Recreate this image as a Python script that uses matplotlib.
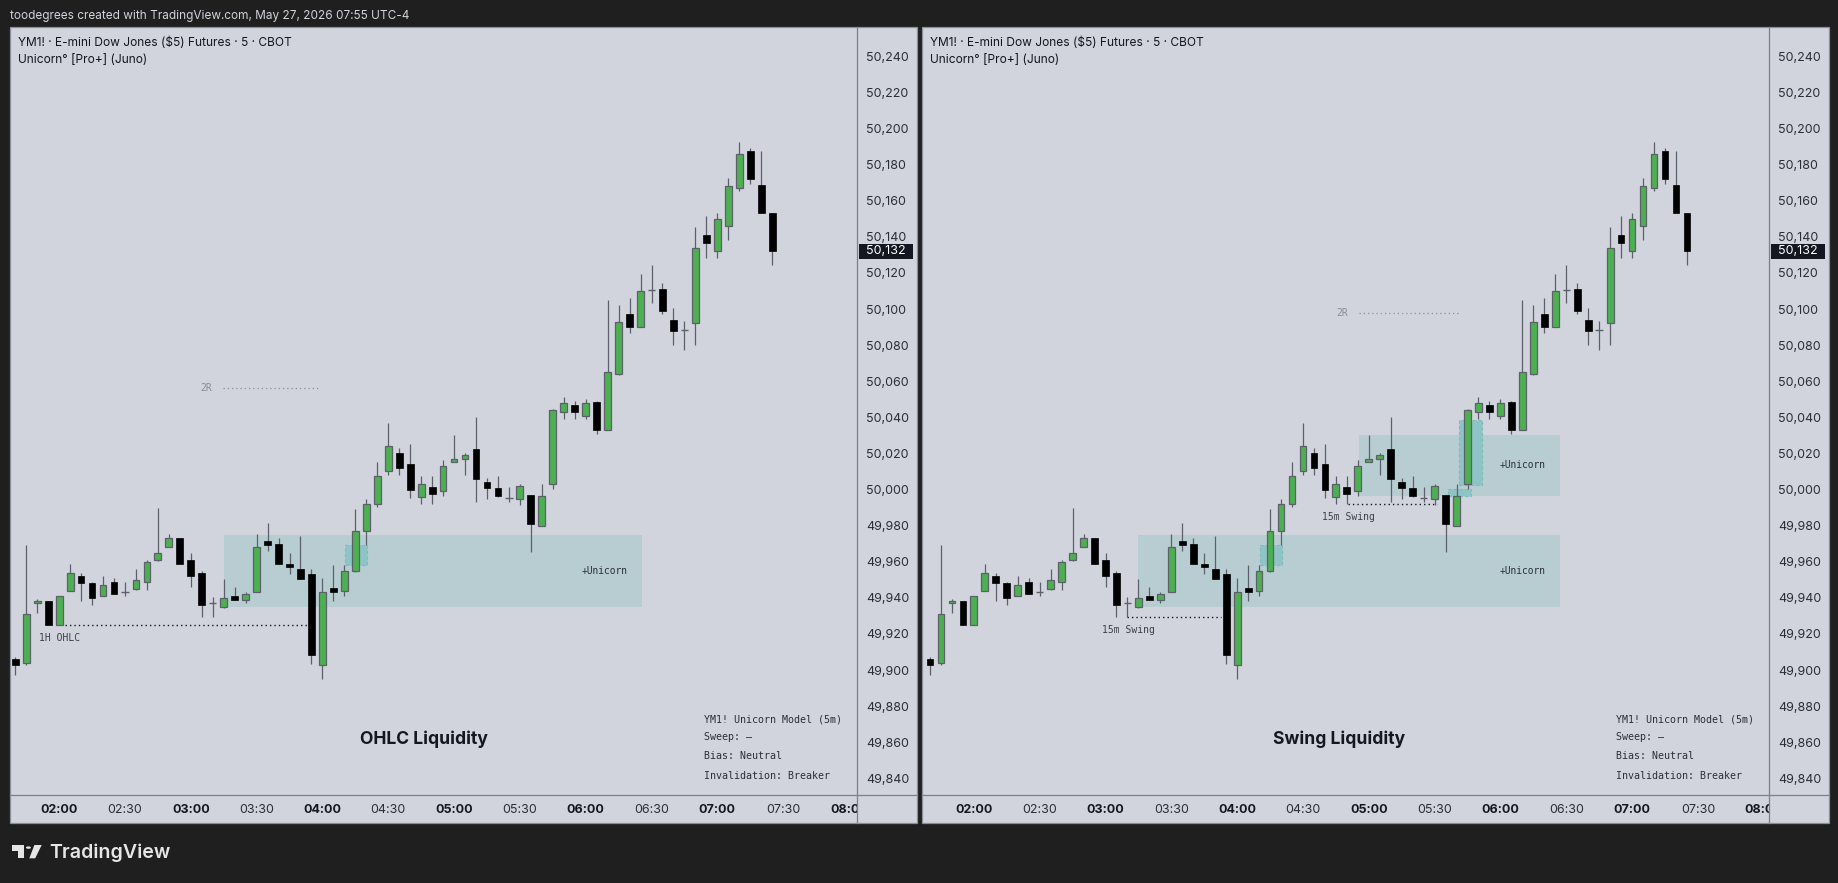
import matplotlib
matplotlib.use("Agg")
import matplotlib.pyplot as plt
from matplotlib.patches import Rectangle, Polygon, Circle
from matplotlib.lines import Line2D
import matplotlib.transforms as mtrans

W, H, DPI = 1838, 883, 100

# ---------------- data (5-minute bars, first bar 01:40) ----------------
opens = [49906, 49904, 49937, 49938, 49925, 49944, 49952, 49948, 49941, 49949,
         49943.5, 49945, 49949, 49961, 49968, 49973, 49961, 49954, 49937, 49935,
         49941, 49939, 49943, 49971.5, 49970, 49959, 49956, 49953, 49903, 49945.5,
         49944, 49955, 49977, 49992, 50010, 50020, 50014, 49996, 50001.5, 49999,
         50015, 50017, 50022.5, 50004, 50001, 49995.5, 49995, 49997, 49980, 50003,
         50043, 50047, 50041, 50048.5, 50033, 50064, 50097, 50090, 50110.5, 50111,
         50094, 50088.5, 50092, 50141, 50132, 50146, 50167, 50187.5, 50169, 50153]
highs = [49907, 49969, 49939.5, 49938, 49941, 49959, 49954, 49949, 49952, 49951,
         49949, 49956, 49961, 49990, 49975.5, 49973, 49965, 49955, 49940.5, 49950.5,
         49946, 49943, 49975.5, 49981.5, 49973, 49965, 49974, 49956, 49951, 49958,
         49958, 49989, 49995, 50015, 50037, 50023, 50025, 50007.5, 50007.5, 50016.5,
         50030, 50020, 50040, 50006.5, 50007.5, 50001.5, 50003, 49997, 50003, 50044.5,
         50051, 50049, 50050, 50049, 50105, 50102, 50106, 50119.5, 50124.5, 50114.5,
         50100.5, 50093.5, 50145.5, 50151.5, 50153, 50172.5, 50192.5, 50189, 50187.5, 50153]
lows = [49897.5, 49903, 49931.5, 49925, 49925, 49944, 49938, 49936, 49941, 49942,
        49941, 49944.5, 49944.5, 49960.5, 49968, 49959, 49946, 49929.5, 49929.5, 49934.5,
        49939, 49937, 49943, 49966, 49959, 49953, 49950.5, 49903.5, 49895, 49938.5,
        49941, 49954.5, 49969, 49990.5, 50008, 50008, 49995.5, 49992, 49992, 49996.5,
        50015, 50008, 49993, 49995, 49996, 49993, 49991.5, 49965.5, 49980, 50000.5,
        50039, 50039, 50039, 50030.5, 50033, 50063.5, 50086.5, 50090, 50103.5, 50097.5,
        50080, 50077.5, 50080, 50128.5, 50128.5, 50138.5, 50165.5, 50169.5, 50153, 50124.5]
closes = [49903, 49931, 49938, 49925, 49941, 49954, 49948, 49940, 49947, 49942,
          49943.5, 49950, 49960, 49965, 49973, 49959, 49952, 49936, 49937, 49940,
          49939, 49942, 49968, 49969, 49959, 49957, 49950.5, 49908.5, 49943, 49943,
          49955, 49977, 49992, 50007.5, 50024, 50012, 50000, 50003, 49997.5, 50013,
          50017, 50019, 50006, 50001, 49996.5, 49995.5, 50002, 49981, 49996.5, 50044,
          50048, 50043, 50048, 50033, 50065, 50093, 50090, 50110, 50110.5, 50099,
          50088, 50088.5, 50134, 50136.5, 50150, 50168, 50186, 50172, 50153, 50132]

tick_pos = [4, 10, 16, 22, 28, 34, 40, 46, 52, 58, 64, 70, 76]
tick_labels = ["02:00", "02:30", "03:00", "03:30", "04:00", "04:30", "05:00",
               "05:30", "06:00", "06:30", "07:00", "07:30", "08:00"]
price_ticks = [50240, 50220, 50200, 50180, 50160, 50140, 50120, 50100, 50080,
               50060, 50040, 50020, 50000, 49980, 49960, 49940, 49920, 49900,
               49880, 49860, 49840]

header_text = "toodegrees created with TradingView.com, May 27, 2026 07:55 UTC-4"
symbol_text = "YM1! \u00b7 E-mini Dow Jones ($5) Futures \u00b7 5 \u00b7 CBOT"
indicator_text = "Unicorn\u00b0 [Pro+] (Juno)"
info_lines = ["YM1! Unicorn Model (5m)", "Sweep: \u2013", "Bias: Neutral",
              "Invalidation: Breaker"]

# left panel annotations
left_title = "OHLC Liquidity"
left_boxes = [(19.0, 57.1, 49935, 49975)]             # x0, x1, low, high
left_fvgs = [(30.05, 32.1, 49958, 49969)]
left_levels = [(4.53, 26.68, 49925, "1H OHLC")]        # x0, x1, price, label
left_2r = [(18.96, 27.8, 50056)]

# right panel annotations
right_title = "Swing Liquidity"
right_boxes = [(19.0, 57.4, 49935, 49975), (39.1, 57.4, 49996.6, 50030.3)]
right_fvgs = [(30.05, 32.1, 49958, 49969), (48.2, 50.3, 50002.5, 50038.5),
              (47.2, 49.3, 49996.6, 50000.3)]
right_levels = [(18.0, 26.56, 49929.5, "15m Swing"), (38.1, 46.2, 49992, "15m Swing")]
right_2r = [(39.15, 48.2, 50098)]

# ---------------- style ----------------
DARK = "#1f1f1f"
PANE = "#d1d4dc"
SEP = "#7c7f89"
GREEN = "#4caf50"
WICK = "#5d606b"
BOX = "#b8cdd2"
FVG = "#8fc4c6"
TXT = "#131722"
SANS = ["Inter", "DejaVu Sans"]
MONO = ["DejaVu Sans Mono"]

fig = plt.figure(figsize=(W / DPI, H / DPI), dpi=DPI, facecolor=DARK)


def fx(x):
    return x / W


def fy(y):
    return 1 - y / H


PANEL_X0, PANEL_X1 = 10.0, 916.7
PLOT_X1 = 857.3
TOP, PLOT_BOT, PANEL_BOT = 27.3, 795.3, 822.7
XLIM = (-0.48, 76.76)
YLIM = (49830.6, 50256.1)

fig.text(fx(10), fy(15.7), header_text, color="#d1d4dc", fontsize=8.5,
         family=SANS, va="center", ha="left")


def draw_panel(off, xshift, title, boxes, fvgs, levels, twor):
    x0 = PANEL_X0 + off
    x1 = PANEL_X1 + off
    px1 = PLOT_X1 + off
    fig.patches.append(Rectangle((fx(x0), fy(PANEL_BOT)), (x1 - x0) / W,
                                 (PANEL_BOT - TOP) / H, transform=fig.transFigure,
                                 facecolor=PANE, edgecolor="none", zorder=-5))
    ax = fig.add_axes([fx(x0), fy(PLOT_BOT), (px1 - x0) / W, (PLOT_BOT - TOP) / H])
    ax.set_facecolor(PANE)
    for s in ax.spines.values():
        s.set_visible(False)
    ax.set_xlim(XLIM[0] + xshift, XLIM[1] + xshift)
    ax.set_ylim(*YLIM)

    # candles
    n = len(opens)
    xs = list(range(n))
    ax.vlines(xs, lows, highs, color=WICK, lw=0.9, zorder=3)
    for i in xs:
        o, c = opens[i], closes[i]
        if abs(c - o) < 0.3:
            ax.hlines(o, i - 0.34, i + 0.34, color=WICK, lw=1.0, zorder=4)
            continue
        if c > o:
            ax.bar(i, c - o, bottom=o, width=0.62, color=GREEN, edgecolor=WICK,
                   linewidth=0.9, zorder=4)
        else:
            ax.bar(i, o - c, bottom=c, width=0.62, color="black", edgecolor="black",
                   linewidth=0.5, zorder=4)

    # unicorn boxes
    for (bx0, bx1, lo, hi) in boxes:
        ax.add_patch(Rectangle((bx0, lo), bx1 - bx0, hi - lo, facecolor=BOX,
                               edgecolor="none", zorder=1))
        ax.text(bx1 - 1.3, (lo + hi) / 2, "+Unicorn", family=MONO, fontsize=6.9,
                color="#2a2e39", ha="right", va="center", zorder=5)
    for (bx0, bx1, lo, hi) in fvgs:
        ax.add_patch(Rectangle((bx0, lo), bx1 - bx0, hi - lo, facecolor=FVG,
                               edgecolor="#7fbcbe", lw=0.8, ls=(0, (3, 2)), zorder=2))
    for (lx0, lx1, p, lab) in levels:
        ax.plot([lx0, lx1], [p, p], color="#131722", lw=1.0, ls=(0, (1, 2.2)), zorder=2)
        ax.text(lx0 - 2.33, p - 7.4, lab, family=MONO, fontsize=7.0, color="#3d4049",
                ha="left", va="center", zorder=5)
    for (lx0, lx1, p) in twor:
        ax.plot([lx0, lx1], [p, p], color="#8a8d96", lw=0.9, ls=(0, (1, 2.4)), zorder=2)
        ax.text(lx0 - 1.05, p, "2R", family=MONO, fontsize=7.0, color="#8a8d96",
                ha="right", va="center", zorder=5)

    # title & info
    ax.text(37.25, 49861.5, title, family=SANS, fontsize=12.6, fontweight="bold",
            color=TXT, ha="center", va="center", zorder=6)
    info_y = [719.3, 736.7, 756.0, 776.0]
    for line, yy in zip(info_lines, info_y):
        fig.text(fx(704 + off), fy(yy), line, family=MONO, fontsize=7.2,
                 color="#2a2e39", ha="left", va="center", zorder=6)
    fig.text(fx(18.3 + off), fy(42.7), symbol_text, family=SANS, fontsize=8.6,
             color=TXT, ha="left", va="center", zorder=6)
    fig.text(fx(18.3 + off), fy(60.0), indicator_text, family=SANS, fontsize=8.6,
             color=TXT, ha="left", va="center", zorder=6)

    # axes ticks
    ax.yaxis.tick_right()
    ax.set_yticks(price_ticks)
    ax.set_yticklabels([f"{v:,}" for v in price_ticks])
    ax.tick_params(axis="y", length=0, pad=6.2, labelsize=9.0, labelcolor="#2a2e39")
    ax.set_xticks(tick_pos)
    ax.set_xticklabels(tick_labels)
    ax.tick_params(axis="x", length=0, pad=6.5, labelsize=9.0, labelcolor="#2a2e39")
    for lbl in ax.get_yticklabels() + ax.get_xticklabels():
        lbl.set_family(SANS)
    for lbl in ax.get_xticklabels():
        if lbl.get_text().endswith(":00"):
            lbl.set_fontweight("bold")
            lbl.set_color(TXT)

    # cover for the clipped time label under the price scale
    fig.patches.append(Rectangle((fx(px1 + 0.5), fy(PANEL_BOT)), (x1 - px1 - 0.5) / W,
                                 (PANEL_BOT - PLOT_BOT - 0.5) / H,
                                 transform=fig.transFigure, facecolor=PANE,
                                 edgecolor="none", zorder=2))
    # separators and border
    fig.lines.append(Line2D([fx(px1), fx(px1)], [fy(TOP), fy(PANEL_BOT)],
                            transform=fig.transFigure, color=SEP, lw=0.9, zorder=3))
    fig.lines.append(Line2D([fx(x0), fx(x1)], [fy(PLOT_BOT), fy(PLOT_BOT)],
                            transform=fig.transFigure, color=SEP, lw=0.9, zorder=3))
    fig.patches.append(Rectangle((fx(x0), fy(PANEL_BOT)), (x1 - x0) / W,
                                 (PANEL_BOT - TOP) / H, transform=fig.transFigure,
                                 facecolor="none", edgecolor="#8a8d96", lw=0.9, zorder=3))

    # last price tag
    blend = mtrans.blended_transform_factory(fig.transFigure, ax.transData)
    last = closes[-1]
    hh = 15.0 / 1.805
    fig.patches.append(Rectangle((fx(px1 + 1.2), last - hh / 2), 54.0 / W, hh,
                                 transform=blend, facecolor="#131722",
                                 edgecolor="none", zorder=4))
    fig.text(fx(866 + off), last, f"{last:,.0f}", transform=blend,
             color="white", fontsize=9.0, family=SANS,
             ha="left", va="center", zorder=5)
    return ax


draw_panel(0, 0.0, left_title, left_boxes, left_fvgs, left_levels, left_2r)
draw_panel(912, -0.25, right_title, right_boxes, right_fvgs, right_levels, right_2r)

# TradingView logo (bottom left)
logo_col = "#e6e6e6"
fig.patches.append(Polygon([(fx(12), fy(845)), (fx(24.3), fy(845)), (fx(24.3), fy(858.3)),
                            (fx(18.3), fy(858.3)), (fx(18.3), fy(850.7)), (fx(12), fy(850.7))],
                           closed=True, transform=fig.transFigure, facecolor=logo_col,
                           edgecolor="none"))
fig.patches.append(Circle((fx(28.4), fy(847.6)), 2.5 / W, transform=fig.transFigure,
                          facecolor=logo_col, edgecolor="none"))
fig.patches.append(Polygon([(fx(29.3), fy(858.3)), (fx(35.2), fy(858.3)), (fx(41.7), fy(845)),
                            (fx(34.4), fy(845))], closed=True, transform=fig.transFigure,
                           facecolor=logo_col, edgecolor="none"))
fig.text(fx(49.3), fy(858.3), "TradingView", color=logo_col, fontsize=14.1,
         fontweight="semibold", family=SANS, ha="left", va="baseline")

fig.savefig("out.png", dpi=DPI, facecolor=DARK)
